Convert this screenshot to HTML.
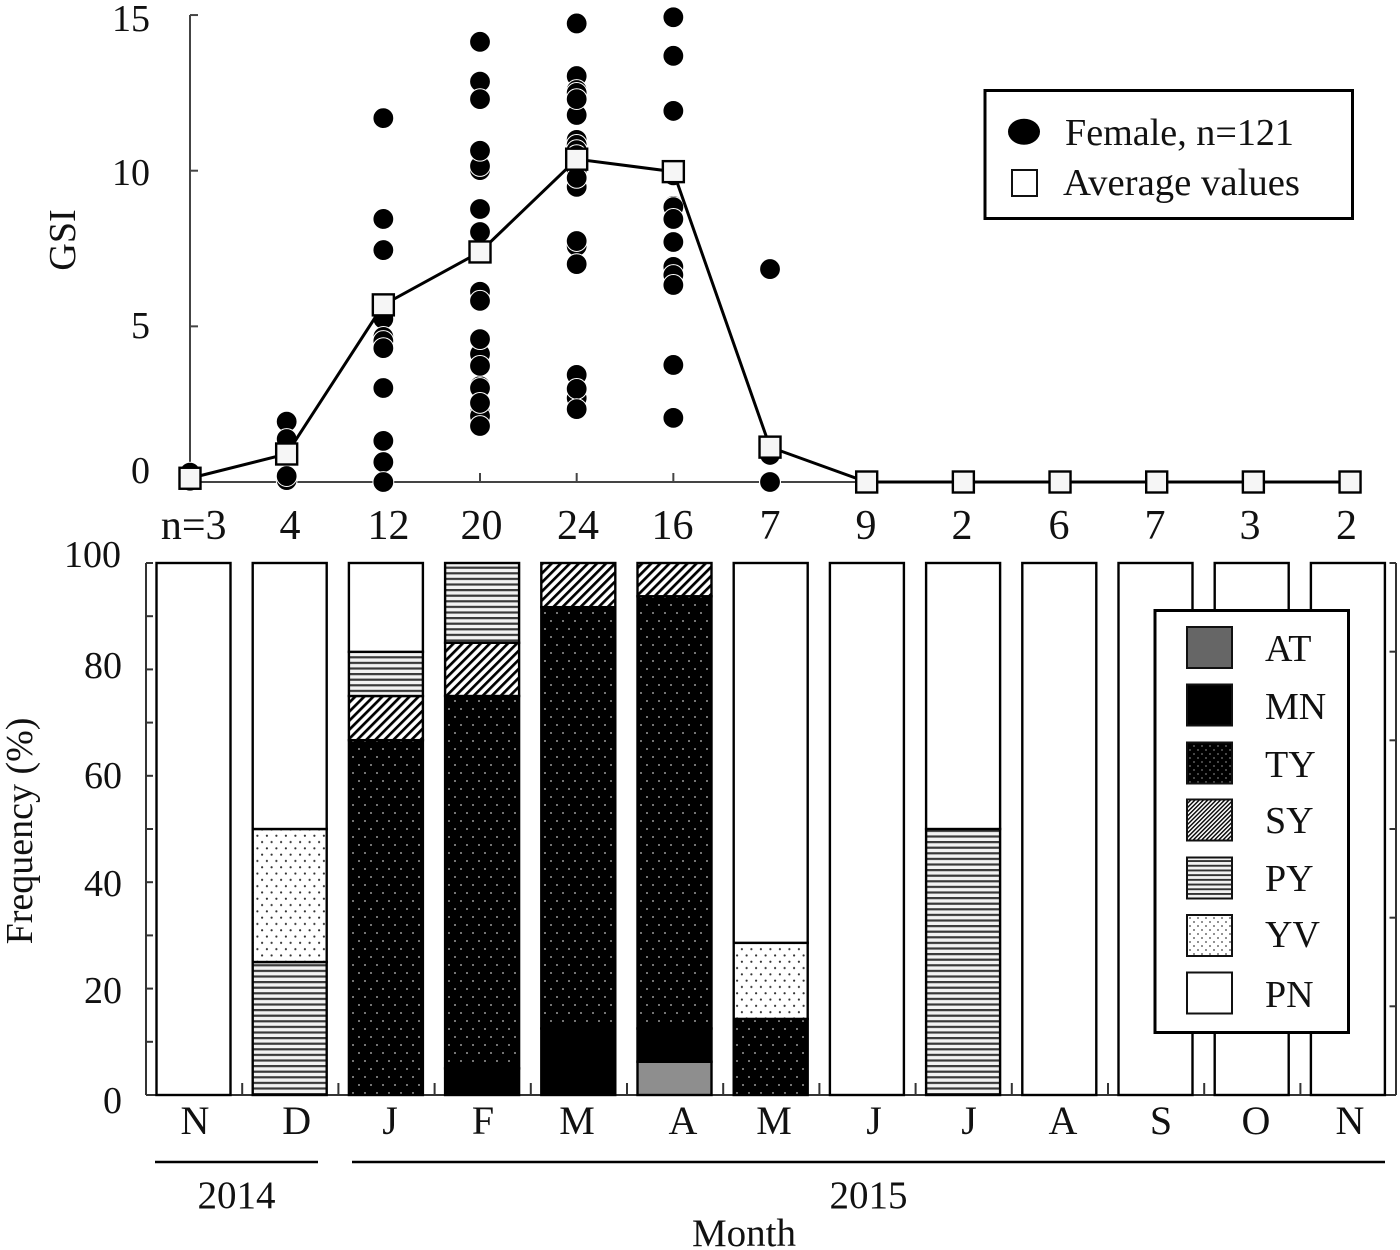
<!DOCTYPE html>
<html lang="en">
<head>
<meta charset="utf-8">
<title>GSI and oocyte stage frequency by month</title>
<style>
html,body{margin:0;padding:0;background:#fff;}
svg{display:block;}
text{font-family:"Liberation Serif","Times New Roman",serif;fill:#111;}
.t38{font-size:38px;}
.t39{font-size:39px;}
.t40{font-size:40px;}
.t42{font-size:42px;}
</style>
</head>
<body>
<svg id="chart" width="1400" height="1250" viewBox="0 0 1400 1250" xmlns="http://www.w3.org/2000/svg">
<defs>
  <pattern id="p-ty" width="12" height="16" patternUnits="userSpaceOnUse" patternTransform="translate(350 1)">
    <rect width="12" height="16" fill="#000"/>
    <circle cx="3" cy="4" r="1" fill="#999"/>
    <circle cx="9" cy="12" r="1" fill="#999"/>
  </pattern>
  <pattern id="p-yv" width="9.5" height="12.6" patternUnits="userSpaceOnUse" patternTransform="translate(350 1)">
    <rect width="9.5" height="12.6" fill="#fff"/>
    <circle cx="2.4" cy="3.1" r="1.1" fill="#333"/>
    <circle cx="7.1" cy="9.4" r="1.1" fill="#333"/>
  </pattern>
  <pattern id="p-sy" width="6.4" height="6.4" patternUnits="userSpaceOnUse" patternTransform="rotate(45)">
    <rect width="6.4" height="6.4" fill="#fff"/>
    <rect x="0" y="0" width="2.7" height="6.4" fill="#000"/>
  </pattern>
  <pattern id="p-py" width="5.6" height="5.6" patternUnits="userSpaceOnUse" patternTransform="translate(0 1)">
    <rect width="5.6" height="5.6" fill="#f2f2f2"/>
    <rect y="0" width="5.6" height="2.2" fill="#3a3a3a"/>
  </pattern>
  <pattern id="lg-ty" width="8" height="8" patternUnits="userSpaceOnUse">
    <rect width="8" height="8" fill="#000"/>
    <circle cx="2" cy="2" r="0.9" fill="#777"/>
    <circle cx="6" cy="6" r="0.9" fill="#777"/>
  </pattern>
  <pattern id="lg-yv" width="8" height="8" patternUnits="userSpaceOnUse">
    <rect width="8" height="8" fill="#fff"/>
    <circle cx="2" cy="2" r="0.9" fill="#444"/>
    <circle cx="6" cy="6" r="0.9" fill="#444"/>
  </pattern>
  <pattern id="lg-sy" width="3" height="3" patternUnits="userSpaceOnUse" patternTransform="rotate(45)">
    <rect width="3" height="3" fill="#fff"/>
    <rect width="1.4" height="3" fill="#000"/>
  </pattern>
  <pattern id="lg-py" width="4.7" height="4.7" patternUnits="userSpaceOnUse">
    <rect width="4.7" height="4.7" fill="#f2f2f2"/>
    <rect width="4.7" height="1.9" fill="#333"/>
  </pattern>
</defs>

<rect width="1400" height="1250" fill="#fff"/>

<g id="gsi-axes"></g>
<g id="gsi-points"></g>
<g id="gsi-average"></g>

<g text-anchor="end" class="t38">
  <text x="150" y="31">15</text>
  <text x="150" y="185">10</text>
  <text x="150" y="338">5</text>
  <text x="150" y="483">0</text>
</g>
<text class="t38" text-anchor="middle" transform="translate(75 240) rotate(-90)">GSI</text>

<g text-anchor="middle" class="t42">
  <text x="193.7" y="539">n=3</text>
  <text x="290" y="539">4</text>
  <text x="388.5" y="539">12</text>
  <text x="481.5" y="539">20</text>
  <text x="578" y="539">24</text>
  <text x="672.5" y="539">16</text>
  <text x="770" y="539">7</text>
  <text x="866" y="539">9</text>
  <text x="962" y="539">2</text>
  <text x="1059" y="539">6</text>
  <text x="1155" y="539">7</text>
  <text x="1250" y="539">3</text>
  <text x="1346.5" y="539">2</text>
</g>

<g>
  <rect x="985" y="90.5" width="367.5" height="128" fill="#fff" stroke="#000" stroke-width="3"/>
  <ellipse cx="1024" cy="131.7" rx="16" ry="13" fill="#000"/>
  <text class="t38" x="1065" y="145" textLength="229" lengthAdjust="spacingAndGlyphs">Female, n=121</text>
  <rect x="1012" y="170" width="25" height="26" fill="#fff" stroke="#111" stroke-width="2"/>
  <text class="t38" x="1063" y="195" textLength="237" lengthAdjust="spacingAndGlyphs">Average values</text>
</g>

<g id="freq-axes"></g>
<g id="freq-bars"></g>

<g text-anchor="end" class="t38">
  <text x="121" y="567">100</text>
  <text x="122" y="678">80</text>
  <text x="122" y="788">60</text>
  <text x="122" y="896">40</text>
  <text x="122" y="1003">20</text>
  <text x="122" y="1113">0</text>
</g>
<text class="t38" text-anchor="middle" transform="translate(32 831) rotate(-90)">Frequency (%)</text>

<g text-anchor="middle" class="t40">
  <text x="195" y="1134">N</text>
  <text x="296.7" y="1134">D</text>
  <text x="390" y="1134">J</text>
  <text x="483" y="1134">F</text>
  <text x="577" y="1134">M</text>
  <text x="683" y="1134">A</text>
  <text x="774" y="1134">M</text>
  <text x="874" y="1134">J</text>
  <text x="969" y="1134">J</text>
  <text x="1063" y="1134">A</text>
  <text x="1161" y="1134">S</text>
  <text x="1256" y="1134">O</text>
  <text x="1350" y="1134">N</text>
</g>

<line x1="155" y1="1162" x2="318" y2="1162" stroke="#000" stroke-width="2.5"/>
<line x1="352" y1="1162" x2="1385" y2="1162" stroke="#000" stroke-width="2.5"/>
<text class="t39" text-anchor="middle" x="236.5" y="1208">2014</text>
<text class="t39" text-anchor="middle" x="868.5" y="1208">2015</text>
<text class="t39" text-anchor="middle" x="744" y="1246">Month</text>

<g>
  <rect x="1155" y="610.5" width="193.5" height="422" fill="#fff" stroke="#000" stroke-width="3"/>
  <rect x="1187" y="627" width="45" height="41" fill="#666" stroke="#111" stroke-width="2"/>
  <text class="t38" x="1265" y="661">AT</text>
  <rect x="1187" y="684.5" width="45" height="41" fill="#000" stroke="#111" stroke-width="2"/>
  <text class="t38" x="1265" y="719">MN</text>
  <rect x="1187" y="742.5" width="45" height="41" fill="url(#lg-ty)" stroke="#111" stroke-width="2"/>
  <text class="t38" x="1265" y="777">TY</text>
  <rect x="1187" y="799.5" width="45" height="41" fill="url(#lg-sy)" stroke="#111" stroke-width="2"/>
  <text class="t38" x="1265" y="833">SY</text>
  <rect x="1187" y="857.5" width="45" height="41" fill="url(#lg-py)" stroke="#111" stroke-width="2"/>
  <text class="t38" x="1265" y="891">PY</text>
  <rect x="1187" y="915" width="45" height="41" fill="url(#lg-yv)" stroke="#111" stroke-width="2"/>
  <text class="t38" x="1265" y="947">YV</text>
  <rect x="1187" y="972.5" width="45" height="41" fill="#fff" stroke="#111" stroke-width="2"/>
  <text class="t38" x="1265" y="1007">PN</text>
</g>
</svg>

<script>
// GSI per individual female, one array per month (array order is draw order)
var gsiNov14 = [0.3, 0.12, 0.04];
var gsiDec14 = [1.94, 1.38, 0.06, 0.19];
var gsiJan15 = [11.69, 8.45, 7.45, 5.36, 5.24, 4.66, 4.53, 4.3, 3.02, 1.32, 0.64, 0];
var gsiFeb15 = [14.14, 12.86, 12.3, 10.02, 10.15, 10.64, 8.77, 8.03, 7.39, 6.11, 5.82, 4.11, 3.08, 3.02, 2.22, 2.12, 4.59, 3.73, 2.54, 1.8];
var gsiMar15 = [14.73, 13.04, 11.79, 12.59, 12.5, 12.3, 10.99, 10.83, 10.66, 10.5, 10.34, 10.18, 10.02, 9.86, 10.0, 9.48, 9.77, 7.58, 7.74, 7.0, 3.44, 2.7, 2.99, 2.34];
var gsiApr15 = [14.93, 13.69, 11.92, 9.95, 9.98, 9.96, 9.85, 8.87, 8.83, 8.45, 7.71, 6.91, 6.65, 6.33, 3.76, 2.06];
var gsiMay15 = [6.84, 0.87, 0, 0, 0, 0, 0];
var gsiMonthly = [gsiNov14, gsiDec14, gsiJan15, gsiFeb15, gsiMar15, gsiApr15, gsiMay15];
var gsiAverage = [0.12, 0.9, 5.69, 7.39, 10.37, 9.97, 1.12, 0, 0, 0, 0, 0, 0];
var gsiTicks = [0, 5, 10, 15];

// Stage frequency (%) per month, Nov 2014 .. Nov 2015
var stageKeys = ["AT", "MN", "TY", "SY", "PY", "YV", "PN"];
var freqAT = [0, 0, 0, 0, 0, 6.25, 0, 0, 0, 0, 0, 0, 0];
var freqMN = [0, 0, 0, 5, 12.5, 6.25, 0, 0, 0, 0, 0, 0, 0];
var freqTY = [0, 0, 66.7, 70, 79.2, 81.25, 14.3, 0, 0, 0, 0, 0, 0];
var freqSY = [0, 0, 8.3, 10, 8.3, 6.25, 0, 0, 0, 0, 0, 0, 0];
var freqPY = [0, 25, 8.3, 15, 0, 0, 0, 0, 50, 0, 0, 0, 0];
var freqYV = [0, 25, 0, 0, 0, 0, 14.3, 0, 0, 0, 0, 0, 0];
var freqPN = [100, 50, 16.7, 0, 0, 0, 71.4, 100, 50, 100, 100, 100, 100];
var freqSeries = [freqAT, freqMN, freqTY, freqSY, freqPY, freqYV, freqPN];
var freqTicksLeft = [0, 10, 20, 30, 40, 50, 60, 70, 80, 90, 100];
var freqTicksRight = [0, 16.67, 33.33, 50, 66.67, 83.33, 100];

var NS = "http://www.w3.org/2000/svg";
function make(tag, attrs, parent) {
  var el = document.createElementNS(NS, tag);
  for (var k in attrs) el.setAttribute(k, attrs[k]);
  parent.appendChild(el);
  return el;
}

// Axis functions
function xGsi(i) { return 190 + i * 96.67; }
function yGsi(v) { return 482 - v * 31.13; }
function xBar(i) { return 156.5 + i * 96.2; }
function yFreq(p) { return 1095 - p * 5.32; }
var barWidth = 74;

var gsiAxes = document.getElementById("gsi-axes");
var yAxisGsi = make("line", { x1: 190, y1: yGsi(15), x2: 190, y2: yGsi(0), stroke: "#444", "stroke-width": 2 }, gsiAxes);


var xAxisGsi = make("line", { x1: 190, y1: 482, x2: xGsi(12), y2: 482, stroke: "#444", "stroke-width": 2 }, gsiAxes);


gsiTicks.forEach(function (t) {
  var tick = make("line", { x1: 190, y1: yGsi(t), x2: 198, y2: yGsi(t), stroke: "#444", "stroke-width": 2 }, gsiAxes);
  
  
});
gsiAverage.forEach(function (_, i) {
  var tick = make("line", { x1: xGsi(i), y1: 482, x2: xGsi(i), y2: 473, stroke: "#444", "stroke-width": 2 }, gsiAxes);
  
  
});

var pointsLayer = document.getElementById("gsi-points");
gsiMonthly.forEach(function (values, i) {
  values.forEach(function (v) {
    var dot = make("circle", { cx: xGsi(i), cy: yGsi(v), r: 10.4, fill: "#000", stroke: "#fff", "stroke-width": 1 }, pointsLayer);
    
    
  });
});

var avgLayer = document.getElementById("gsi-average");
var avgPts = gsiAverage.map(function (v, i) { return xGsi(i) + "," + yGsi(v); }).join(" ");
var avgLine = make("polyline", { points: avgPts, fill: "none", stroke: "#000", "stroke-width": 3 }, avgLayer);


gsiAverage.forEach(function (v, i) {
  var sq = make("rect", { x: xGsi(i) - 10.5, y: yGsi(v) - 10.5, width: 21, height: 21, fill: "#f6f6f6", stroke: "#000", "stroke-width": 2.4 }, avgLayer);
  
  
});

var freqAxes = document.getElementById("freq-axes");
var leftAxis = make("line", { x1: 146, y1: yFreq(100), x2: 146, y2: yFreq(0), stroke: "#333", "stroke-width": 2 }, freqAxes);


var rightAxis = make("line", { x1: 1396, y1: yFreq(100), x2: 1396, y2: yFreq(0), stroke: "#333", "stroke-width": 2 }, freqAxes);


var baseAxis = make("line", { x1: 146, y1: yFreq(0), x2: 1396, y2: yFreq(0), stroke: "#333", "stroke-width": 2 }, freqAxes);


freqTicksLeft.forEach(function (t) {
  var tick = make("line", { x1: 146, y1: yFreq(t), x2: 153, y2: yFreq(t), stroke: "#333", "stroke-width": 2 }, freqAxes);
  
  
});
freqTicksRight.forEach(function (t) {
  var tick = make("line", { x1: 1389.5, y1: yFreq(t), x2: 1396, y2: yFreq(t), stroke: "#333", "stroke-width": 2 }, freqAxes);
  
  
});
freqPN.forEach(function (_, i) {
  var tx = 146 + (i + 1) * 96.2;
  if (i < 12) {
    var tick = make("line", { x1: tx, y1: 1095, x2: tx, y2: 1083, stroke: "#333", "stroke-width": 2 }, freqAxes);
    
    
  }
});

var barsLayer = document.getElementById("freq-bars");
var fills = { AT: "#8e8e8e", MN: "#000", TY: "url(#p-ty)", SY: "url(#p-sy)", PY: "url(#p-py)", YV: "url(#p-yv)", PN: "#fff" };
freqPN.forEach(function (_, i) {
  var cum = 0;
  stageKeys.forEach(function (key, s) {
    var val = freqSeries[s][i];
    if (val <= 0) return;
    var top = yFreq(cum + val);
    var seg = make("rect", { x: xBar(i), y: top, width: barWidth, height: yFreq(cum) - top, fill: fills[key], stroke: "#000", "stroke-width": 2.4 }, barsLayer);
    
    
    cum += val;
  });
});
</script>
</body>
</html>
